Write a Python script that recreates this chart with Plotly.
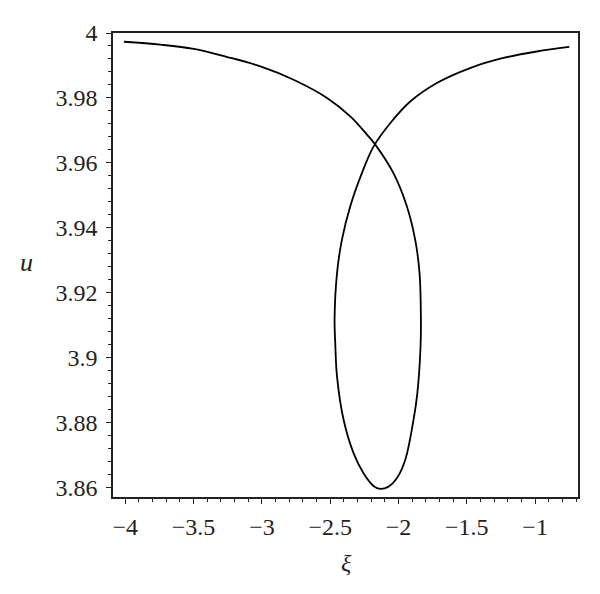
import plotly.graph_objects as go

# Curve: from upper-left end, down the right side of the loop,
# round the bottom, up the left side of the loop, to the upper-right end.
xi = [-4.010, -3.742, -3.499, -3.254, -3.011, -2.768, -2.523, -2.353, -2.231, -2.170,
      -2.037, -1.939, -1.878, -1.846, -1.836, -1.839, -1.862, -1.890, -1.951, -2.012,
      -2.073, -2.134, -2.183, -2.256, -2.329, -2.402, -2.450, -2.463, -2.468, -2.450,
      -2.414, -2.353, -2.268, -2.183, -2.061, -1.914, -1.719, -1.476, -1.232, -0.988,
      -0.750]
u = [3.9973, 3.9964, 3.9951, 3.9926, 3.9897, 3.9856, 3.9800, 3.9743, 3.9687, 3.9656,
     3.9568, 3.9466, 3.9363, 3.9260, 3.9116, 3.9030, 3.8890, 3.8808, 3.8684, 3.8628,
     3.8602, 3.8595, 3.8604, 3.8643, 3.8705, 3.8808, 3.8941, 3.9044, 3.9116, 3.9260,
     3.9363, 3.9466, 3.9568, 3.9650, 3.9722, 3.9789, 3.9846, 3.9892, 3.9923, 3.9943,
     3.9957]

x_ticks = [-4, -3.5, -3, -2.5, -2, -1.5, -1]
x_tick_text = ["\u22124", "\u22123.5", "\u22123", "\u22122.5", "\u22122", "\u22121.5", "\u22121"]
y_ticks = [3.86, 3.88, 3.9, 3.92, 3.94, 3.96, 3.98, 4]
y_tick_text = ["3.86", "3.88", "3.9", "3.92", "3.94", "3.96", "3.98", "4"]

FONT = "Liberation Serif, Times New Roman, DejaVu Serif, serif"

fig = go.Figure()
fig.add_trace(go.Scatter(x=xi, y=u, mode="lines",
                         line=dict(color="black", width=1.8, shape="spline", smoothing=1.0),
                         showlegend=False, hoverinfo="skip"))

axis_common = dict(showgrid=False, zeroline=False, showline=True, linecolor="#222",
                   linewidth=1.6, mirror=True, ticks="outside", ticklen=5, tickwidth=1.4,
                   tickcolor="#222", tickfont=dict(family=FONT, size=24, color="#222"))

fig.update_layout(
    width=600, height=594,
    font=dict(family=FONT, size=24, color="#222"),
    paper_bgcolor="white", plot_bgcolor="white",
    margin=dict(l=105, r=30, t=25, b=105),
    xaxis=dict(range=[-4.09, -0.686], tickvals=x_ticks, ticktext=x_tick_text,
               minor=dict(dtick=0.1, tick0=-4, ticks="outside", ticklen=3, tickwidth=1.2,
                          tickcolor="#222"),
               ticklabelstandoff=2, **axis_common),
    yaxis=dict(range=[3.857, 4.0], tickvals=y_ticks, ticktext=y_tick_text,
               minor=dict(dtick=0.004, tick0=3.86, ticks="outside", ticklen=3, tickwidth=1.2,
                          tickcolor="#222"),
               ticklabelstandoff=4, **axis_common),
    annotations=[
        dict(text="<i>u</i>", xref="paper", yref="paper", x=-0.185, y=0.506,
             xanchor="center", yanchor="middle",
             showarrow=False, font=dict(family=FONT, size=26, color="#222")),
        dict(text="<i>\u03be</i>", xref="paper", yref="paper", x=0.5026, y=-0.142,
             xanchor="center", yanchor="middle",
             showarrow=False, font=dict(family=FONT, size=24, color="#222")),
    ],
)

fig.write_html("out.html")
